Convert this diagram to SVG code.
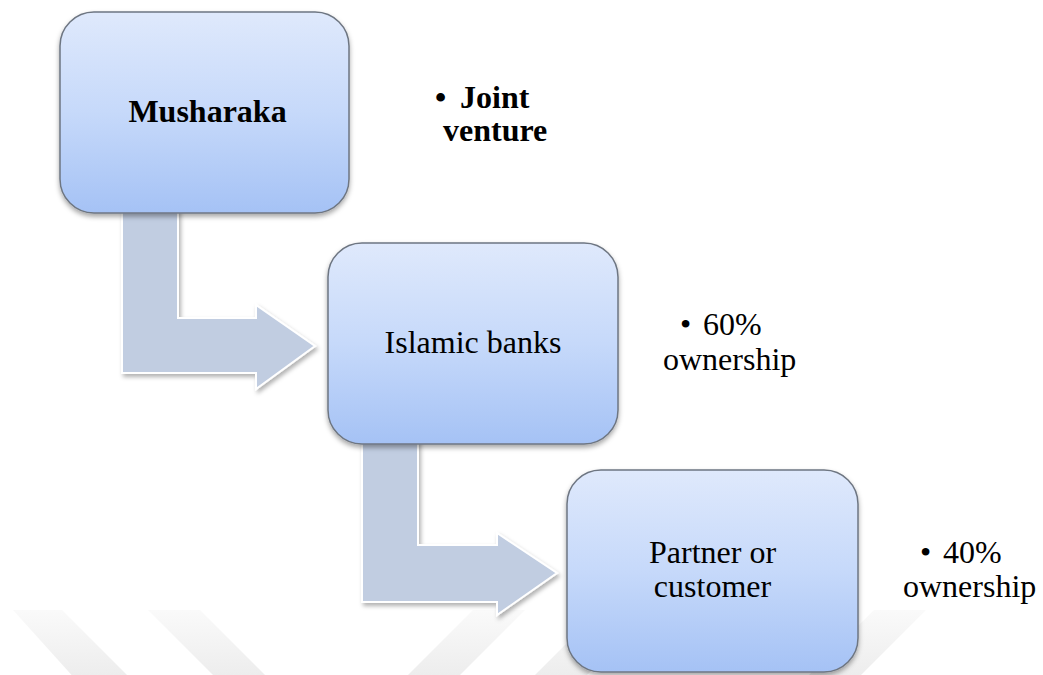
<svg xmlns="http://www.w3.org/2000/svg" width="1043" height="675" viewBox="0 0 1043 675">
  <defs>
    <linearGradient id="boxFill" x1="0" y1="0" x2="0" y2="1">
      <stop offset="0" stop-color="#dfe9fc"/>
      <stop offset="0.5" stop-color="#c6d9fa"/>
      <stop offset="1" stop-color="#a5c2f5"/>
    </linearGradient>
    <linearGradient id="wmFill" gradientUnits="userSpaceOnUse" x1="0" y1="605" x2="0" y2="675">
      <stop offset="0" stop-color="#fbfbfb"/>
      <stop offset="1" stop-color="#ededed"/>
    </linearGradient>
    <filter id="boxShadow" x="-10%" y="-10%" width="120%" height="125%">
      <feDropShadow dx="0" dy="3" stdDeviation="2.5" flood-color="#000" flood-opacity="0.35"/>
    </filter>
    <filter id="arrowShadow" x="-10%" y="-10%" width="125%" height="125%">
      <feDropShadow dx="2" dy="3" stdDeviation="2" flood-color="#000" flood-opacity="0.3"/>
    </filter>
  </defs>
  <style>
    .box { fill: url(#boxFill); stroke: #6e7682; stroke-width: 1.5; filter: url(#boxShadow); }
    .arrow { fill: #c1cde1; stroke: #ffffff; stroke-width: 2; stroke-linejoin: miter; filter: url(#arrowShadow); }
    .wm { fill: url(#wmFill); }
    text { font-family: 'Liberation Serif', 'Times New Roman', serif; font-size: 32px; fill: #000; }
    .b { font-weight: bold; }
    .c { text-anchor: middle; }
  </style>
  <rect x="0" y="0" width="1043" height="675" fill="#ffffff"/>

  <g id="watermark">
    <polygon class="wm" points="13,610 62,610 133,681 77,681"/>
    <polygon class="wm" points="148,610 200,610 271,681 219,681"/>
    <polygon class="wm" points="473,610 525,610 454,681 402,681"/>
    <polygon class="wm" points="600,610 652,610 581,681 529,681"/>
    <polygon class="wm" points="874,610 926,610 855,681 803,681"/>
  </g>

  <g id="connectors">
    <polygon class="arrow" points="122,200 178,200 178,318 256,318 256,305 315,346 256,389 256,373 122,373"/>
    <polygon class="arrow" points="362,430 418,430 418,545 497,545 497,533 557,573 497,615 497,602 362,602"/>
  </g>

  <g id="node-musharaka">
    <rect class="box" x="60" y="12" width="289" height="201" rx="34" ry="34"/>
    <text class="b c" x="207.5" y="122">Musharaka</text>
  </g>
  <g id="label-joint-venture">
    <text class="b" x="435" y="108">• <tspan x="460">Joint</tspan></text>
    <text class="b" x="443" y="141">venture</text>
  </g>

  <g id="node-islamic-banks">
    <rect class="box" x="328" y="243" width="290" height="201" rx="34" ry="34"/>
    <text class="c" x="473" y="353">Islamic banks</text>
  </g>
  <g id="label-60">
    <text x="680" y="335">• <tspan x="703">60%</tspan></text>
    <text x="663" y="370">ownership</text>
  </g>

  <g id="node-partner">
    <rect class="box" x="567" y="470" width="291" height="202" rx="34" ry="34"/>
    <text class="c" x="712.5" y="563">Partner or</text>
    <text class="c" x="712.5" y="597">customer</text>
  </g>
  <g id="label-40">
    <text x="920" y="563">• <tspan x="943">40%</tspan></text>
    <text x="903" y="597">ownership</text>
  </g>
</svg>
